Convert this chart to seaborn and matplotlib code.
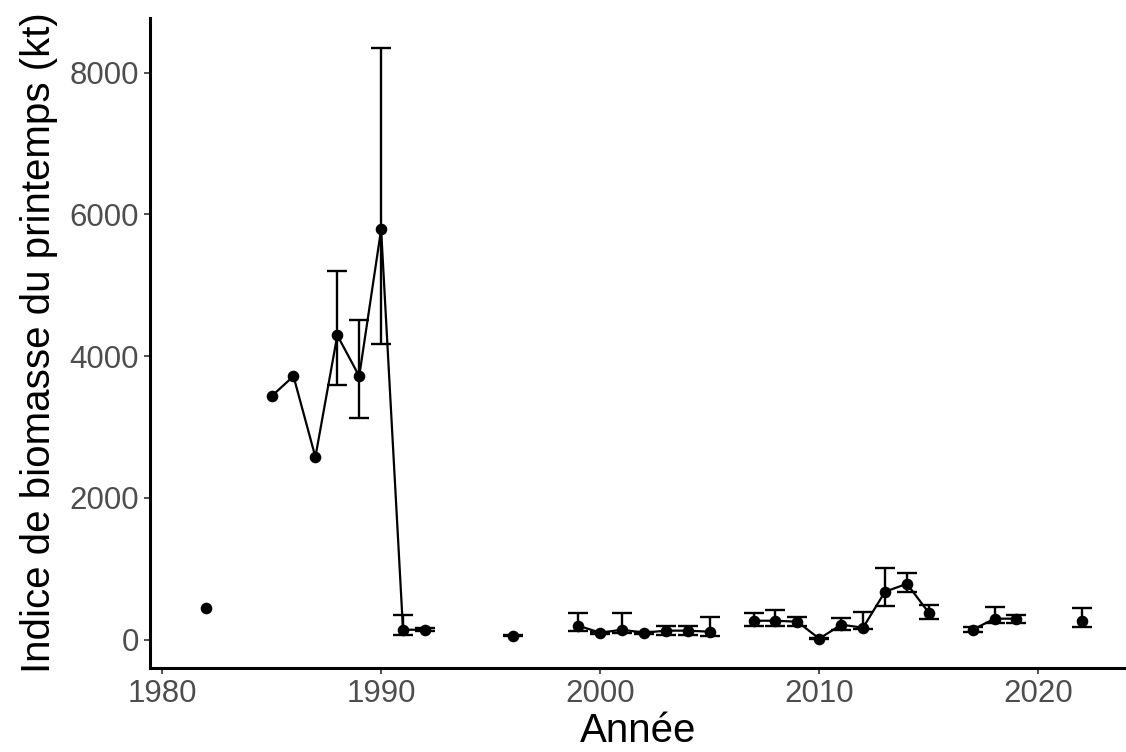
import numpy as np
import pandas as pd
import matplotlib
matplotlib.use("Agg")
import matplotlib.pyplot as plt
import seaborn as sns

years = [1982, 1985, 1986, 1987, 1988, 1989, 1990, 1991, 1992, 1996,
         1999, 2000, 2001, 2002, 2003, 2004, 2005,
         2007, 2008, 2009, 2010, 2011, 2012, 2013, 2014, 2015,
         2017, 2018, 2019, 2022]
biomass = [450, 3435, 3717, 2577, 4294, 3717, 5787, 140, 140, 56,
           197, 98, 140, 98, 127, 127, 112,
           267, 267, 253, 14, 211, 169, 676, 788, 380,
           140, 296, 296, 267]
lower = [np.nan, np.nan, np.nan, np.nan, 3590, 3125, 4168, 70, 115, 45,
         127, 85, 98, 85, 70, 70, 56,
         197, 197, 197, 5, 140, 155, 479, 676, 296,
         112, 239, 239, 183]
upper = [np.nan, np.nan, np.nan, np.nan, 5195, 4505, 8350, 352, 170, 65,
         380, 110, 380, 110, 197, 197, 324,
         380, 422, 324, 30, 310, 394, 1014, 943, 493,
         183, 465, 352, 451]

xticks = [1980, 1990, 2000, 2010, 2020]
yticks = [0, 2000, 4000, 6000, 8000]

df = pd.DataFrame({"year": years, "biomass": biomass, "lower": lower, "upper": upper})
df["segment"] = (df["year"].diff() != 1).cumsum()

sns.set_theme(style="ticks")
plt.rcParams["font.family"] = ["Liberation Sans", "DejaVu Sans"]

fig = plt.figure(figsize=(11.26, 7.52), dpi=100)
ax = fig.add_axes([0.1332, 0.1117, 0.8668, 0.8643])

eb = df.dropna(subset=["lower", "upper"])
ax.errorbar(eb["year"], eb["biomass"],
            yerr=[eb["biomass"] - eb["lower"], eb["upper"] - eb["biomass"]],
            fmt="none", ecolor="black", elinewidth=1.7, capsize=7, capthick=1.7, zorder=2)

sns.lineplot(data=df, x="year", y="biomass", units="segment", estimator=None,
             color="black", linewidth=1.6, ax=ax, zorder=3)
sns.scatterplot(data=df, x="year", y="biomass", color="black", s=70,
                edgecolor="black", linewidth=0, ax=ax, zorder=4)

ax.set_xlim(1979.45, 2024.0)
ax.set_ylim(-400, 8770)
ax.set_xticks(xticks)
ax.set_yticks(yticks)
ax.tick_params(axis="both", labelsize=22.5, colors="#333333", labelcolor="#4D4D4D",
               length=4, width=1.2, pad=4)
ax.set_xlabel("Année", fontsize=29, color="black", labelpad=2)
ax.set_ylabel("Indice de biomasse du printemps (kt)", fontsize=29, color="black", labelpad=8)
for s in ["left", "bottom"]:
    ax.spines[s].set_linewidth(2.2)
    ax.spines[s].set_color("black")
sns.despine(ax=ax)

fig.savefig("out.png", dpi=100)
